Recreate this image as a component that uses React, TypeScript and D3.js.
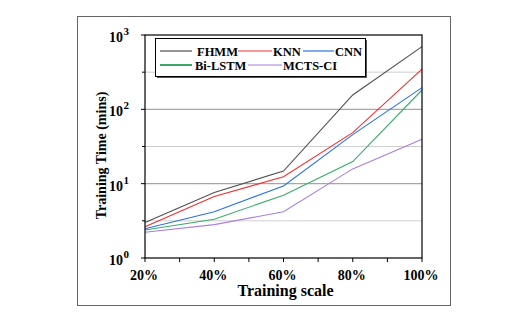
import React from "react";
import * as d3 from "d3";

// training scale (%) on the x axis
const scales = [20, 40, 60, 80, 100];
const xTickLabels = ["20%", "40%", "60%", "80%", "100%"];
const minorScales = [30, 50, 70, 90];

// training time in minutes
const fhmm = [3.0, 7.6, 14.8, 156, 698];
const knn = [2.64, 6.7, 12.4, 48.6, 347];
const cnn = [2.48, 4.2, 9.3, 45.7, 196];
const biLstm = [2.38, 3.32, 7.0, 19.8, 182];
const mctsCi = [2.22, 2.81, 4.2, 15.8, 39.6];

const seriesNames = ["FHMM", "KNN", "CNN", "Bi-LSTM", "MCTS-CI"];
const seriesValues = [fhmm, knn, cnn, biLstm, mctsCi];
const seriesColors = ["#505050", "#f03030", "#2a72e0", "#3aaa6a", "#a87fe0"];

const decades = [0, 1, 2, 3];

const W = 522;
const H = 326;
const left = 145, right = 422, top = 35, bottom = 258;
const txt = { fontFamily: "Liberation Serif", fontWeight: "bold" as const };

export default function App() {
  const x = d3.scaleLinear().domain([20, 100]).range([left, right]);
  const y = d3.scaleLog().domain([1, 1000]).range([bottom, top]);

  const line = d3.line<number>()
    .x((d, i) => x(scales[i]))
    .y(d => y(d));

  const halfDecades = [0.5, 1.5, 2.5].map(e => Math.pow(10, e));
  const majorGrid = [10, 100];

  // legend layout
  const legendRows = [
    [{ i: 0, lx: 160, tx: 197 }, { i: 1, lx: 238, tx: 273 }, { i: 2, lx: 303, tx: 335 }],
    [{ i: 3, lx: 160, tx: 195 }, { i: 4, lx: 248, tx: 283 }],
  ];
  const legendLineLen = [32, 34, 31, 32, 34];

  return (
    <svg width={W} height={H} style={{ position: "absolute", left: 0, top: 0, background: "#fff" }}>
      <rect x={77.5} y={16.5} width={373} height={289} fill="#fff" stroke="#666" strokeWidth={1} />

      {/* grid */}
      {halfDecades.map(v => (
        <line key={"h" + v} x1={left} x2={right} y1={y(v)} y2={y(v)} stroke="#cfcfcf" strokeWidth={1} />
      ))}
      {majorGrid.map(v => (
        <line key={"m" + v} x1={left} x2={right} y1={y(v)} y2={y(v)} stroke="#a6a6a6" strokeWidth={1.2} />
      ))}

      {/* series */}
      {seriesValues.map((vals, k) => (
        <path key={seriesNames[k]} d={line(vals) || ""} fill="none" stroke={seriesColors[k]} strokeWidth={1.1} />
      ))}

      {/* plot frame */}
      <rect x={left} y={top} width={right - left} height={bottom - top} fill="none" stroke="#000" strokeWidth={1.2} />

      {/* x ticks */}
      {scales.concat(minorScales).map(s => (
        <line key={"xt" + s} x1={x(s)} x2={x(s)} y1={bottom} y2={bottom + 4} stroke="#000" strokeWidth={1} />
      ))}
      {scales.map((s, i) => (
        <text key={"xl" + s} x={x(s) - 1} y={280} textAnchor="middle" fontSize={14} style={txt}>{xTickLabels[i]}</text>
      ))}

      {/* y ticks */}
      {decades.map(e => (
        <line key={"yt" + e} x1={left - 4} x2={left} y1={y(Math.pow(10, e))} y2={y(Math.pow(10, e))} stroke="#000" strokeWidth={1} />
      ))}
      {halfDecades.map(v => (
        <line key={"yh" + v} x1={left - 3} x2={left} y1={y(v)} y2={y(v)} stroke="#000" strokeWidth={1} />
      ))}
      {decades.map(e => (
        <text key={"yl" + e} x={129} y={y(Math.pow(10, e)) + 7} textAnchor="end" fontSize={14} style={txt}>
          10
          <tspan dx={0.5} dy={-7} fontSize={11}>{e}</tspan>
        </text>
      ))}

      {/* axis titles */}
      <text x={(left + right) / 2 + 2} y={296} textAnchor="middle" fontSize={16} style={txt}>Training scale</text>
      <text transform={`translate(106, ${(top + bottom) / 2 + 9}) rotate(-90)`} textAnchor="middle" fontSize={14} style={txt}>
        Training Time (mins)
      </text>

      {/* legend */}
      <rect x={157} y={40} width={210} height={38} fill="#555" />
      <rect x={155.5} y={38.5} width={210} height={38} fill="#fff" stroke="#000" strokeWidth={1} />
      {legendRows.map((row, r) =>
        row.map(item => (
          <g key={seriesNames[item.i]}>
            <line x1={item.lx} x2={item.lx + legendLineLen[item.i]} y1={51 + r * 14} y2={51 + r * 14}
              stroke={seriesColors[item.i]} strokeWidth={item.i === 3 ? 2 : 1.2} />
            <text x={item.tx} y={55.5 + r * 14} fontSize={12.5} style={txt}>{seriesNames[item.i]}</text>
          </g>
        ))
      )}
    </svg>
  );
}
